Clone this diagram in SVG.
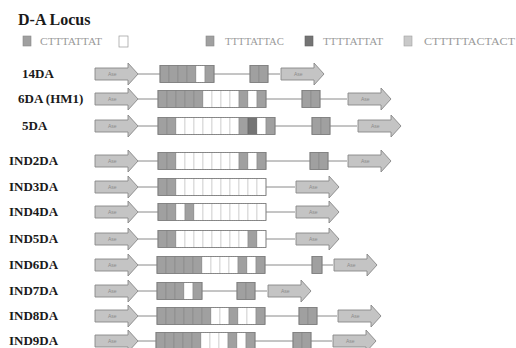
<svg xmlns="http://www.w3.org/2000/svg" xmlns:xlink="http://www.w3.org/1999/xlink" width="516" height="348" viewBox="0 0 516 348">
<style>
.t{font-family:"Liberation Serif","Times New Roman",serif;font-weight:bold;font-size:13px;fill:#1a1a1a}
.ttl{font-family:"Liberation Serif","Times New Roman",serif;font-weight:bold;font-size:16px;fill:#1a1a1a}
.lg{font-family:"Liberation Serif","Times New Roman",serif;font-size:10px;fill:#9a9a9a}
.g{fill:#a0a0a0;stroke:#888;stroke-width:.6}
.w{fill:#fff;stroke:#9a9a9a;stroke-width:.7;stroke-dasharray:1 1}
.d{fill:#747474;stroke:#626262;stroke-width:.6}
.l{fill:#c9c9c9;stroke:#a0a0a0;stroke-width:.6}
.o{fill:none;stroke:#808080;stroke-width:.9}
.ar{fill:#c4c4c4;stroke:#888;stroke-width:.9}
.at{font-family:"Liberation Sans",Arial,sans-serif;font-size:5px;fill:#8a8a8a}
.cn line{stroke:#8a8a8a;stroke-width:1}
</style>
<defs>
<g id="arr"><path class="ar" d="M0,-6 H33 V-11 L43,0 L33,11 V6 H0 Z"/><text class="at" x="13" y="2">Ase</text></g>
</defs>
<rect width="516" height="348" fill="#fff"/>
<text class="ttl" x="18" y="25">D-A Locus</text>
<g id="legend">
<rect class="g" x="23" y="36" width="8" height="10"/>
<text class="lg" x="40" y="45" textLength="62" lengthAdjust="spacingAndGlyphs">CTTTATTAT</text>
<rect class="w" x="119" y="36" width="9" height="11" style="stroke-dasharray:none;stroke:#999"/>
<rect class="g" x="206" y="36" width="8" height="10"/>
<text class="lg" x="225" y="45" textLength="59" lengthAdjust="spacingAndGlyphs">TTTTATTAC</text>
<rect class="d" x="305" y="36" width="8" height="10"/>
<text class="lg" x="323" y="45" textLength="60" lengthAdjust="spacingAndGlyphs">TTTTATTAT</text>
<rect class="l" x="404" y="36" width="8" height="10"/>
<text class="lg" x="424" y="45" textLength="91" lengthAdjust="spacingAndGlyphs">CTTTTTACTACT</text>
</g>
<g class="cn" id="connectors">
<line x1="138" y1="74" x2="160" y2="74"/><line x1="214" y1="74" x2="250" y2="74"/><line x1="268" y1="74" x2="280" y2="74"/>
<line x1="138" y1="99" x2="158" y2="99"/><line x1="266" y1="99" x2="302" y2="99"/><line x1="320" y1="99" x2="347" y2="99"/>
<line x1="138" y1="126" x2="158" y2="126"/><line x1="275" y1="126" x2="312" y2="126"/><line x1="330" y1="126" x2="357" y2="126"/>
<line x1="138" y1="161" x2="158" y2="161"/><line x1="266" y1="161" x2="310" y2="161"/><line x1="328" y1="161" x2="347" y2="161"/>
<line x1="138" y1="187" x2="158" y2="187"/><line x1="266" y1="187" x2="295" y2="187"/>
<line x1="138" y1="212" x2="158" y2="212"/><line x1="266" y1="212" x2="295" y2="212"/>
<line x1="138" y1="239" x2="158" y2="239"/><line x1="266" y1="239" x2="295" y2="239"/>
<line x1="138" y1="265" x2="157" y2="265"/><line x1="265" y1="265" x2="312" y2="265"/><line x1="322" y1="265" x2="333" y2="265"/>
<line x1="138" y1="291" x2="157" y2="291"/><line x1="202" y1="291" x2="237" y2="291"/><line x1="255" y1="291" x2="267" y2="291"/>
<line x1="138" y1="316" x2="157" y2="316"/><line x1="265" y1="316" x2="299" y2="316"/><line x1="317" y1="316" x2="337" y2="316"/>
<line x1="138" y1="341" x2="156" y2="341"/><line x1="255" y1="341" x2="293" y2="341"/><line x1="311" y1="341" x2="332" y2="341"/>
</g>

<g id="row-14DA">
<text class="t" x="22" y="78">14DA</text>
<use xlink:href="#arr" x="95" y="74"/>
<g transform="translate(160,65.5)"><rect class="g" x="0" width="9" height="17"/><rect class="g" x="9" width="9" height="17"/><rect class="g" x="18" width="9" height="17"/><rect class="g" x="27" width="9" height="17"/><rect class="w" x="36" width="9" height="17"/><rect class="g" x="45" width="9" height="17"/><rect class="o" width="54" height="17"/></g>
<g transform="translate(250,65.5)"><rect class="g" x="0" width="9" height="17"/><rect class="g" x="9" width="9" height="17"/><rect class="o" width="18" height="17"/></g>
<use xlink:href="#arr" x="281" y="74"/>
</g>

<g id="row-6DA">
<text class="t" x="18" y="103">6DA (HM1)</text>
<use xlink:href="#arr" x="95" y="99"/>
<g transform="translate(158,90.5)"><rect class="g" x="0" width="9" height="17"/><rect class="g" x="9" width="9" height="17"/><rect class="g" x="18" width="9" height="17"/><rect class="g" x="27" width="9" height="17"/><rect class="g" x="36" width="9" height="17"/><rect class="w" x="45" width="9" height="17"/><rect class="w" x="54" width="9" height="17"/><rect class="w" x="63" width="9" height="17"/><rect class="w" x="72" width="9" height="17"/><rect class="g" x="81" width="9" height="17"/><rect class="w" x="90" width="9" height="17"/><rect class="g" x="99" width="9" height="17"/><rect class="o" width="108" height="17"/></g>
<g transform="translate(302,90.5)"><rect class="g" x="0" width="9" height="17"/><rect class="g" x="9" width="9" height="17"/><rect class="o" width="18" height="17"/></g>
<use xlink:href="#arr" x="348" y="99"/>
</g>

<g id="row-5DA">
<text class="t" x="22" y="130">5DA</text>
<use xlink:href="#arr" x="95" y="126"/>
<g transform="translate(158,117.5)"><rect class="g" x="0" width="9" height="17"/><rect class="g" x="9" width="9" height="17"/><rect class="w" x="18" width="9" height="17"/><rect class="w" x="27" width="9" height="17"/><rect class="w" x="36" width="9" height="17"/><rect class="w" x="45" width="9" height="17"/><rect class="w" x="54" width="9" height="17"/><rect class="w" x="63" width="9" height="17"/><rect class="w" x="72" width="9" height="17"/><rect class="g" x="81" width="9" height="17"/><rect class="d" x="90" width="9" height="17"/><rect class="w" x="99" width="9" height="17"/><rect class="g" x="108" width="9" height="17"/><rect class="o" width="117" height="17"/></g>
<g transform="translate(312,117.5)"><rect class="g" x="0" width="9" height="17"/><rect class="g" x="9" width="9" height="17"/><rect class="o" width="18" height="17"/></g>
<use xlink:href="#arr" x="358" y="126"/>
</g>

<g id="row-IND2DA">
<text class="t" x="9" y="165">IND2DA</text>
<use xlink:href="#arr" x="95" y="161"/>
<g transform="translate(158,152.5)"><rect class="g" x="0" width="9" height="17"/><rect class="g" x="9" width="9" height="17"/><rect class="w" x="18" width="9" height="17"/><rect class="w" x="27" width="9" height="17"/><rect class="w" x="36" width="9" height="17"/><rect class="w" x="45" width="9" height="17"/><rect class="w" x="54" width="9" height="17"/><rect class="w" x="63" width="9" height="17"/><rect class="w" x="72" width="9" height="17"/><rect class="g" x="81" width="9" height="17"/><rect class="w" x="90" width="9" height="17"/><rect class="g" x="99" width="9" height="17"/><rect class="o" width="108" height="17"/></g>
<g transform="translate(310,152.5)"><rect class="g" x="0" width="9" height="17"/><rect class="g" x="9" width="9" height="17"/><rect class="o" width="18" height="17"/></g>
<use xlink:href="#arr" x="348" y="161"/>
</g>

<g id="row-IND3DA">
<text class="t" x="9" y="191">IND3DA</text>
<use xlink:href="#arr" x="95" y="187"/>
<g transform="translate(158,178.5)"><rect class="g" x="0" width="9" height="17"/><rect class="g" x="9" width="9" height="17"/><rect class="w" x="18" width="9" height="17"/><rect class="w" x="27" width="9" height="17"/><rect class="w" x="36" width="9" height="17"/><rect class="w" x="45" width="9" height="17"/><rect class="w" x="54" width="9" height="17"/><rect class="w" x="63" width="9" height="17"/><rect class="w" x="72" width="9" height="17"/><rect class="w" x="81" width="9" height="17"/><rect class="w" x="90" width="9" height="17"/><rect class="w" x="99" width="9" height="17"/><rect class="o" width="108" height="17"/></g>
<use xlink:href="#arr" x="296" y="187"/>
</g>

<g id="row-IND4DA">
<text class="t" x="9" y="216">IND4DA</text>
<use xlink:href="#arr" x="95" y="212"/>
<g transform="translate(158,203.5)"><rect class="g" x="0" width="9" height="17"/><rect class="g" x="9" width="9" height="17"/><rect class="w" x="18" width="9" height="17"/><rect class="g" x="27" width="9" height="17"/><rect class="w" x="36" width="9" height="17"/><rect class="w" x="45" width="9" height="17"/><rect class="w" x="54" width="9" height="17"/><rect class="w" x="63" width="9" height="17"/><rect class="w" x="72" width="9" height="17"/><rect class="w" x="81" width="9" height="17"/><rect class="w" x="90" width="9" height="17"/><rect class="w" x="99" width="9" height="17"/><rect class="o" width="108" height="17"/></g>
<use xlink:href="#arr" x="296" y="212"/>
</g>

<g id="row-IND5DA">
<text class="t" x="9" y="243">IND5DA</text>
<use xlink:href="#arr" x="95" y="239"/>
<g transform="translate(158,230.5)"><rect class="g" x="0" width="9" height="17"/><rect class="g" x="9" width="9" height="17"/><rect class="w" x="18" width="9" height="17"/><rect class="w" x="27" width="9" height="17"/><rect class="w" x="36" width="9" height="17"/><rect class="w" x="45" width="9" height="17"/><rect class="w" x="54" width="9" height="17"/><rect class="w" x="63" width="9" height="17"/><rect class="w" x="72" width="9" height="17"/><rect class="w" x="81" width="9" height="17"/><rect class="g" x="90" width="9" height="17"/><rect class="w" x="99" width="9" height="17"/><rect class="o" width="108" height="17"/></g>
<use xlink:href="#arr" x="296" y="239"/>
</g>

<g id="row-IND6DA">
<text class="t" x="9" y="269">IND6DA</text>
<use xlink:href="#arr" x="95" y="265"/>
<g transform="translate(157,256.5)"><rect class="g" x="0" width="9" height="17"/><rect class="g" x="9" width="9" height="17"/><rect class="g" x="18" width="9" height="17"/><rect class="g" x="27" width="9" height="17"/><rect class="g" x="36" width="9" height="17"/><rect class="w" x="45" width="9" height="17"/><rect class="w" x="54" width="9" height="17"/><rect class="w" x="63" width="9" height="17"/><rect class="w" x="72" width="9" height="17"/><rect class="g" x="81" width="9" height="17"/><rect class="w" x="90" width="9" height="17"/><rect class="g" x="99" width="9" height="17"/><rect class="o" width="108" height="17"/></g>
<g transform="translate(312,256.5)"><rect class="g" x="0" width="10" height="17"/><rect class="o" width="10" height="17"/></g>
<use xlink:href="#arr" x="334" y="265"/>
</g>

<g id="row-IND7DA">
<text class="t" x="9" y="295">IND7DA</text>
<use xlink:href="#arr" x="95" y="291"/>
<g transform="translate(157,282.5)"><rect class="g" x="0" width="9" height="17"/><rect class="g" x="9" width="9" height="17"/><rect class="g" x="18" width="9" height="17"/><rect class="w" x="27" width="9" height="17"/><rect class="g" x="36" width="9" height="17"/><rect class="o" width="45" height="17"/></g>
<g transform="translate(237,282.5)"><rect class="g" x="0" width="9" height="17"/><rect class="g" x="9" width="9" height="17"/><rect class="o" width="18" height="17"/></g>
<use xlink:href="#arr" x="268" y="291"/>
</g>

<g id="row-IND8DA">
<text class="t" x="9" y="320">IND8DA</text>
<use xlink:href="#arr" x="95" y="316"/>
<g transform="translate(157,307.5)"><rect class="g" x="0" width="9" height="17"/><rect class="g" x="9" width="9" height="17"/><rect class="g" x="18" width="9" height="17"/><rect class="g" x="27" width="9" height="17"/><rect class="g" x="36" width="9" height="17"/><rect class="g" x="45" width="9" height="17"/><rect class="w" x="54" width="9" height="17"/><rect class="w" x="63" width="9" height="17"/><rect class="g" x="72" width="9" height="17"/><rect class="w" x="81" width="9" height="17"/><rect class="w" x="90" width="9" height="17"/><rect class="g" x="99" width="9" height="17"/><rect class="o" width="108" height="17"/></g>
<g transform="translate(299,307.5)"><rect class="g" x="0" width="9" height="17"/><rect class="g" x="9" width="9" height="17"/><rect class="o" width="18" height="17"/></g>
<use xlink:href="#arr" x="338" y="316"/>
</g>

<g id="row-IND9DA">
<text class="t" x="9" y="345">IND9DA</text>
<use xlink:href="#arr" x="95" y="341"/>
<g transform="translate(156,332.5)"><rect class="g" x="0" width="9" height="17"/><rect class="g" x="9" width="9" height="17"/><rect class="g" x="18" width="9" height="17"/><rect class="g" x="27" width="9" height="17"/><rect class="g" x="36" width="9" height="17"/><rect class="w" x="45" width="9" height="17"/><rect class="w" x="54" width="9" height="17"/><rect class="w" x="63" width="9" height="17"/><rect class="g" x="72" width="9" height="17"/><rect class="w" x="81" width="9" height="17"/><rect class="g" x="90" width="9" height="17"/><rect class="o" width="99" height="17"/></g>
<g transform="translate(293,332.5)"><rect class="g" x="0" width="9" height="17"/><rect class="g" x="9" width="9" height="17"/><rect class="o" width="18" height="17"/></g>
<use xlink:href="#arr" x="333" y="341"/>
</g>
</svg>
